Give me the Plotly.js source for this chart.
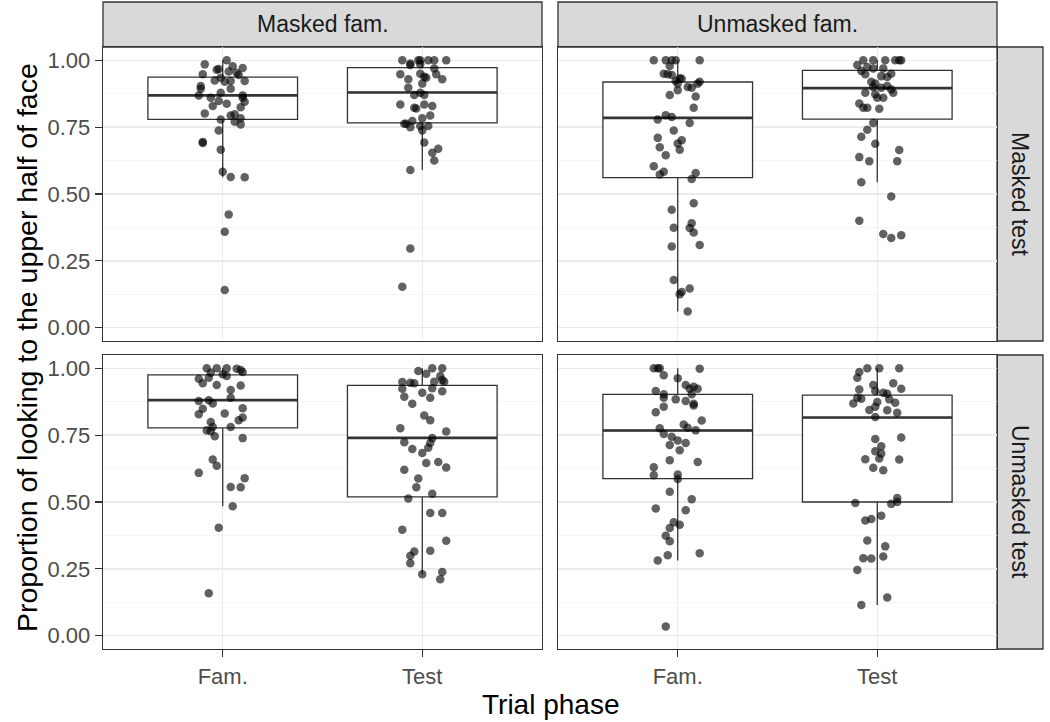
<!DOCTYPE html>
<html>
<head>
<meta charset="utf-8">
<script src="https://cdn.plot.ly/plotly-3.0.1.min.js"></script>
<style>html,body{margin:0;padding:0;background:#fff;}#chart{width:1050px;height:722px;}</style>
</head>
<body>
<div id="chart"></div>
<script>
// ---------- data ----------
const facetCols = ["Masked fam.", "Unmasked fam."];
const facetRows = ["Masked test", "Unmasked test"];
const phases = ["Fam.", "Test"];
const yTickVals = [0, 0.25, 0.5, 0.75, 1];
const yTickText = ["0.00", "0.25", "0.50", "0.75", "1.00"];
const yMinorVals = [0.125, 0.375, 0.625, 0.875];
const refLine = 0.5;
const xTitle = "Trial phase";
const yTitle = "Proportion of looking to the upper half of face";

// Masked fam. / Masked test
const mm_fam_y = [1.000,0.985,0.978,0.971,0.965,0.968,0.948,0.958,0.954,0.945,0.935,0.925,0.920,0.923,0.923,0.904,0.894,0.894,0.869,0.860,0.879,0.869,0.860,0.829,0.838,0.845,0.825,0.848,0.801,0.794,0.798,0.783,0.770,0.760,0.779,0.738,0.695,0.691,0.666,0.583,0.564,0.563,0.423,0.359,0.141];
const mm_fam_dx = [0.02,-0.09,0.05,0.10,-0.03,-0.02,-0.10,0.03,0.07,0.08,-0.01,-0.04,0.01,0.04,0.11,-0.11,-0.11,0.04,-0.12,-0.06,-0.01,0.10,0.10,-0.05,0.02,0.11,0.09,-0.02,-0.09,0.04,0.06,0.09,0.06,0.09,-0.01,-0.02,-0.10,-0.10,-0.01,0.00,0.04,0.11,0.03,0.01,0.01];
const mm_test_y = [1.000,0.988,1.000,1.000,1.000,1.000,1.000,0.983,0.985,0.970,0.948,0.950,0.939,0.935,0.948,0.929,0.929,0.898,0.913,0.870,0.879,0.870,0.835,0.823,0.820,0.835,0.829,0.794,0.783,0.773,0.763,0.763,0.750,0.754,0.754,0.738,0.693,0.654,0.669,0.625,0.590,0.296,0.153];
const mm_test_dx = [-0.10,-0.06,-0.02,-0.01,0.03,0.06,0.12,-0.06,-0.01,0.06,-0.11,-0.01,0.01,0.02,0.07,0.10,-0.07,-0.07,0.00,-0.04,-0.01,0.01,-0.11,-0.04,-0.03,0.01,0.05,0.04,0.00,-0.05,-0.09,-0.08,-0.06,-0.01,0.03,0.00,0.01,0.05,0.08,0.06,-0.06,-0.06,-0.10];
const mm_q1 = [0.779, 0.766];
const mm_med = [0.869, 0.880];
const mm_q3 = [0.9375, 0.9725];
const mm_lo = [0.563, 0.590];
const mm_hi = [1.000, 1.000];

// Unmasked fam. / Masked test
const um_fam_y = [1.0,1.0,1.0,1.0,1.0,0.979,0.950,0.948,0.945,0.923,0.933,0.931,0.913,0.888,0.900,0.898,0.913,0.920,0.870,0.865,0.823,0.779,0.795,0.788,0.766,0.738,0.710,0.701,0.689,0.675,0.666,0.645,0.604,0.573,0.583,0.579,0.556,0.465,0.441,0.391,0.374,0.373,0.356,0.304,0.309,0.178,0.133,0.125,0.146,0.060];
const um_fam_dx = [-0.12,-0.06,-0.03,-0.01,0.11,-0.04,-0.07,-0.05,-0.03,-0.01,0.01,0.02,0.00,0.00,0.05,0.07,0.10,0.11,-0.04,0.09,0.08,-0.10,-0.06,-0.03,0.06,-0.02,-0.10,0.02,0.00,-0.09,0.01,-0.06,-0.12,-0.09,-0.07,0.09,0.07,0.08,-0.03,0.07,-0.02,0.06,0.08,-0.03,0.11,-0.02,0.02,0.01,0.06,0.05];
const um_test_y = [1.0,1.0,1.0,1.0,1.0,1.0,0.983,0.975,0.970,0.970,0.960,0.950,0.948,0.941,0.938,0.920,0.913,0.904,0.900,0.898,0.891,0.879,0.873,0.879,0.860,0.860,0.839,0.823,0.823,0.819,0.766,0.740,0.714,0.688,0.665,0.638,0.623,0.623,0.544,0.491,0.400,0.350,0.335,0.346];
const um_test_dx = [-0.07,-0.02,0.04,0.09,0.11,0.12,-0.10,-0.05,-0.02,0.03,-0.08,0.07,-0.06,0.02,0.05,-0.03,-0.01,0.05,-0.02,0.02,0.07,-0.06,-0.01,0.08,0.03,0.00,-0.09,-0.07,-0.05,0.01,-0.02,-0.05,-0.08,-0.01,0.11,-0.09,-0.04,0.10,-0.08,0.07,-0.09,0.03,0.07,0.12];
const um_q1 = [0.561, 0.780];
const um_med = [0.785, 0.896];
const um_q3 = [0.919, 0.9625];
const um_lo = [0.060, 0.544];
const um_hi = [1.000, 1.000];

// Masked fam. / Unmasked test
const mu_fam_y = [1.0,1.0,1.0,0.999,0.994,0.986,0.984,0.978,0.971,0.961,0.965,0.944,0.938,0.936,0.919,0.890,0.878,0.881,0.869,0.849,0.851,0.828,0.831,0.816,0.806,0.799,0.781,0.781,0.768,0.765,0.746,0.739,0.659,0.636,0.609,0.589,0.556,0.555,0.484,0.404,0.159];
const mu_fam_dx = [-0.08,-0.03,0.02,0.07,0.09,0.10,-0.06,0.00,0.02,-0.12,-0.07,-0.10,-0.03,0.09,0.04,0.04,-0.12,-0.07,-0.05,-0.10,0.10,-0.12,0.01,0.10,0.08,-0.06,-0.05,0.04,-0.08,-0.06,-0.04,0.10,-0.05,-0.03,-0.12,0.11,0.04,0.09,0.05,-0.02,-0.07];
const mu_test_y = [0.990,0.980,1.000,1.000,0.971,0.949,0.946,0.944,0.950,0.956,0.950,0.924,0.926,0.909,0.914,0.894,0.890,0.868,0.824,0.806,0.776,0.764,0.739,0.721,0.724,0.703,0.698,0.683,0.646,0.650,0.629,0.621,0.588,0.555,0.531,0.513,0.459,0.459,0.396,0.355,0.315,0.318,0.299,0.271,0.230,0.238,0.211];
const mu_test_dx = [-0.02,0.02,0.05,0.10,0.09,-0.10,-0.06,-0.04,0.06,0.10,0.11,-0.10,0.05,0.00,0.10,-0.09,0.04,-0.05,0.01,0.04,-0.11,0.12,0.05,0.04,-0.09,0.03,-0.05,0.00,0.02,0.08,0.12,-0.09,-0.02,-0.03,0.05,-0.07,0.04,0.10,-0.10,0.12,-0.04,0.04,-0.06,-0.06,0.00,0.10,0.09];
const mu_q1 = [0.7775, 0.519];
const mu_med = [0.881, 0.740];
const mu_q3 = [0.976, 0.936];
const mu_lo = [0.484, 0.230];
const mu_hi = [1.000, 1.000];

// Unmasked fam. / Unmasked test
const uu_fam_y = [1.0,1.0,1.0,0.999,0.974,0.963,0.938,0.931,0.924,0.924,0.915,0.903,0.903,0.890,0.884,0.878,0.868,0.861,0.856,0.836,0.805,0.790,0.778,0.776,0.768,0.754,0.744,0.730,0.721,0.713,0.694,0.656,0.650,0.630,0.600,0.603,0.586,0.538,0.510,0.476,0.469,0.424,0.415,0.403,0.374,0.353,0.308,0.301,0.281,0.034];
const uu_fam_dx = [-0.12,-0.10,-0.09,0.11,-0.07,0.00,0.04,0.08,0.10,0.06,-0.11,-0.07,0.07,-0.07,-0.01,0.04,0.08,0.08,-0.07,-0.11,0.12,0.03,0.05,-0.09,0.09,-0.07,-0.03,0.00,0.04,-0.04,0.01,-0.04,0.10,-0.12,-0.12,0.00,0.00,-0.04,0.07,-0.11,0.04,-0.02,0.01,-0.04,-0.06,-0.04,0.11,-0.05,-0.10,-0.06];
const uu_test_y = [1.0,1.0,1.0,0.986,0.965,0.938,0.944,0.924,0.921,0.915,0.909,0.905,0.890,0.886,0.869,0.874,0.884,0.871,0.856,0.844,0.843,0.834,0.818,0.736,0.741,0.709,0.690,0.681,0.660,0.663,0.659,0.628,0.619,0.515,0.500,0.493,0.496,0.449,0.431,0.436,0.356,0.334,0.290,0.289,0.296,0.246,0.143,0.115];
const uu_test_dx = [-0.05,0.01,0.11,-0.09,-0.10,-0.02,0.08,0.12,-0.09,-0.01,0.03,0.05,-0.10,-0.08,-0.12,0.00,0.06,0.09,-0.01,-0.04,0.05,0.10,-0.01,-0.01,0.12,0.02,-0.01,0.02,-0.06,0.01,0.11,-0.02,0.03,0.10,0.10,0.07,-0.11,0.02,-0.06,-0.03,-0.05,0.04,-0.07,-0.03,0.03,-0.10,0.05,-0.08];
const uu_q1 = [0.5875, 0.500];
const uu_med = [0.7675, 0.816];
const uu_q3 = [0.9025, 0.900];
const uu_lo = [0.281, 0.115];
const uu_hi = [1.000, 1.000];

// ---------- build ----------
const W = 1050, H = 722;
const fx = px => px / W;
const fy = py => 1 - py / H;
const colDom = [[fx(103), fx(542)], [fx(558), fx(997)]];
const rowDom = [[fy(341), fy(47)], [fy(649), fy(355)]];
const BOXW = 0.75;
const INK = '#333333';
const FONT = 'Liberation Sans, Arial, Helvetica, sans-serif';

const panels = [
  {r:0, c:0, n:'',  fy_:mm_fam_y, fdx:mm_fam_dx, ty:mm_test_y, tdx:mm_test_dx, q1:mm_q1, med:mm_med, q3:mm_q3, lo:mm_lo, hi:mm_hi},
  {r:0, c:1, n:'2', fy_:um_fam_y, fdx:um_fam_dx, ty:um_test_y, tdx:um_test_dx, q1:um_q1, med:um_med, q3:um_q3, lo:um_lo, hi:um_hi},
  {r:1, c:0, n:'3', fy_:mu_fam_y, fdx:mu_fam_dx, ty:mu_test_y, tdx:mu_test_dx, q1:mu_q1, med:mu_med, q3:mu_q3, lo:mu_lo, hi:mu_hi},
  {r:1, c:1, n:'4', fy_:uu_fam_y, fdx:uu_fam_dx, ty:uu_test_y, tdx:uu_test_dx, q1:uu_q1, med:uu_med, q3:uu_q3, lo:uu_lo, hi:uu_hi}
];

const pos = phases.map((p, i) => i + 1);
const traces = [];
const layout = {
  width: W, height: H,
  margin: {l:0, r:0, t:0, b:0},
  paper_bgcolor: '#ffffff', plot_bgcolor: '#ffffff',
  showlegend: false,
  font: {family: FONT, color: '#4D4D4D'},
  shapes: [], annotations: []
};

panels.forEach(P => {
  const xa = 'x' + P.n, ya = 'y' + P.n;
  // box
  traces.push({
    type: 'box', xaxis: xa, yaxis: ya,
    x: pos, q1: P.q1, median: P.med, q3: P.q3,
    lowerfence: P.lo, upperfence: P.hi,
    width: BOXW, whiskerwidth: 0, boxpoints: false,
    fillcolor: '#ffffff', line: {color: INK, width: 1.3},
    hoverinfo: 'skip'
  });
  // thicker median
  const mx = [], my = [];
  pos.forEach((p, i) => { mx.push(p - BOXW/2, p + BOXW/2, null); my.push(P.med[i], P.med[i], null); });
  traces.push({type:'scatter', mode:'lines', xaxis:xa, yaxis:ya, x:mx, y:my,
    line:{color: INK, width: 2.6}, hoverinfo:'skip'});
  // jittered points
  const px = [], py = [];
  P.fy_.forEach((v, i) => { px.push(pos[0] + P.fdx[i]); py.push(v); });
  P.ty.forEach((v, i) => { px.push(pos[1] + P.tdx[i]); py.push(v); });
  traces.push({type:'scatter', mode:'markers', xaxis:xa, yaxis:ya, x:px, y:py,
    marker:{color:'rgba(0,0,0,0.62)', size:8.5, line:{width:0}}, hoverinfo:'skip'});

  const bottom = P.r === 1, left = P.c === 0;
  layout['xaxis' + P.n] = {
    domain: colDom[P.c], anchor: ya, range: [0.4, 2.6],
    tickmode: 'array', tickvals: pos, ticktext: phases,
    showticklabels: bottom, ticks: bottom ? 'outside' : '', ticklen: 7, tickwidth: 1.3, tickcolor: INK,
    tickfont: {size: 22, color: '#4D4D4D', family: FONT},
    showgrid: true, gridcolor: '#EBEBEB', gridwidth: 1.5, zeroline: false,
    showline: true, mirror: true, linecolor: INK, linewidth: 1.3,
    fixedrange: true, automargin: false
  };
  layout['yaxis' + P.n] = {
    domain: rowDom[P.r], anchor: xa, range: [-0.05, 1.05],
    tickmode: 'array', tickvals: yTickVals, ticktext: yTickText,
    showticklabels: left, ticks: left ? 'outside' : '', ticklen: 7, tickwidth: 1.3, tickcolor: INK,
    tickfont: {size: 22, color: '#4D4D4D', family: FONT},
    showgrid: true, gridcolor: '#EBEBEB', gridwidth: 1.5, zeroline: false,
    minor: {tickmode: 'array', tickvals: yMinorVals, showgrid: true, gridcolor: '#F2F2F2', gridwidth: 0.8, ticks: ''},
    showline: true, mirror: true, linecolor: INK, linewidth: 1.3,
    fixedrange: true, automargin: false
  };
  // reference line
  layout.shapes.push({type:'line', xref: xa + ' domain', yref: ya, x0:0, x1:1, y0:refLine, y1:refLine,
    line:{color: INK, width: 1.8}, layer:'below'});
});

// strips
facetCols.forEach((t, c) => {
  layout.shapes.push({type:'rect', xref:'paper', yref:'paper', x0:colDom[c][0], x1:colDom[c][1], y0:fy(47), y1:fy(2),
    fillcolor:'#D9D9D9', line:{color: INK, width:1.3}, layer:'below'});
  layout.annotations.push({xref:'paper', yref:'paper', x:(colDom[c][0]+colDom[c][1])/2, y:fy(24.5),
    text:t, showarrow:false, xanchor:'center', yanchor:'middle', font:{size:23, color:'#1A1A1A', family:FONT}});
});
facetRows.forEach((t, r) => {
  layout.shapes.push({type:'rect', xref:'paper', yref:'paper', x0:fx(997), x1:fx(1043), y0:rowDom[r][0], y1:rowDom[r][1],
    fillcolor:'#D9D9D9', line:{color: INK, width:1.3}, layer:'below'});
  layout.annotations.push({xref:'paper', yref:'paper', x:fx(1020), y:(rowDom[r][0]+rowDom[r][1])/2,
    text:t, showarrow:false, textangle:90, xanchor:'center', yanchor:'middle', font:{size:23, color:'#1A1A1A', family:FONT}});
});

// axis titles
layout.annotations.push({xref:'paper', yref:'paper', x:(colDom[0][0]+colDom[1][1])/2, y:fy(704),
  text:xTitle, showarrow:false, xanchor:'center', yanchor:'middle', font:{size:28, color:'#000000', family:FONT}});
layout.annotations.push({xref:'paper', yref:'paper', x:fx(27), y:(rowDom[1][0]+rowDom[0][1])/2,
  text:yTitle, showarrow:false, textangle:-90, xanchor:'center', yanchor:'middle', font:{size:28.5, color:'#000000', family:FONT}});

Plotly.newPlot('chart', traces, layout, {displayModeBar:false, staticPlot:true});
</script>
</body>
</html>
